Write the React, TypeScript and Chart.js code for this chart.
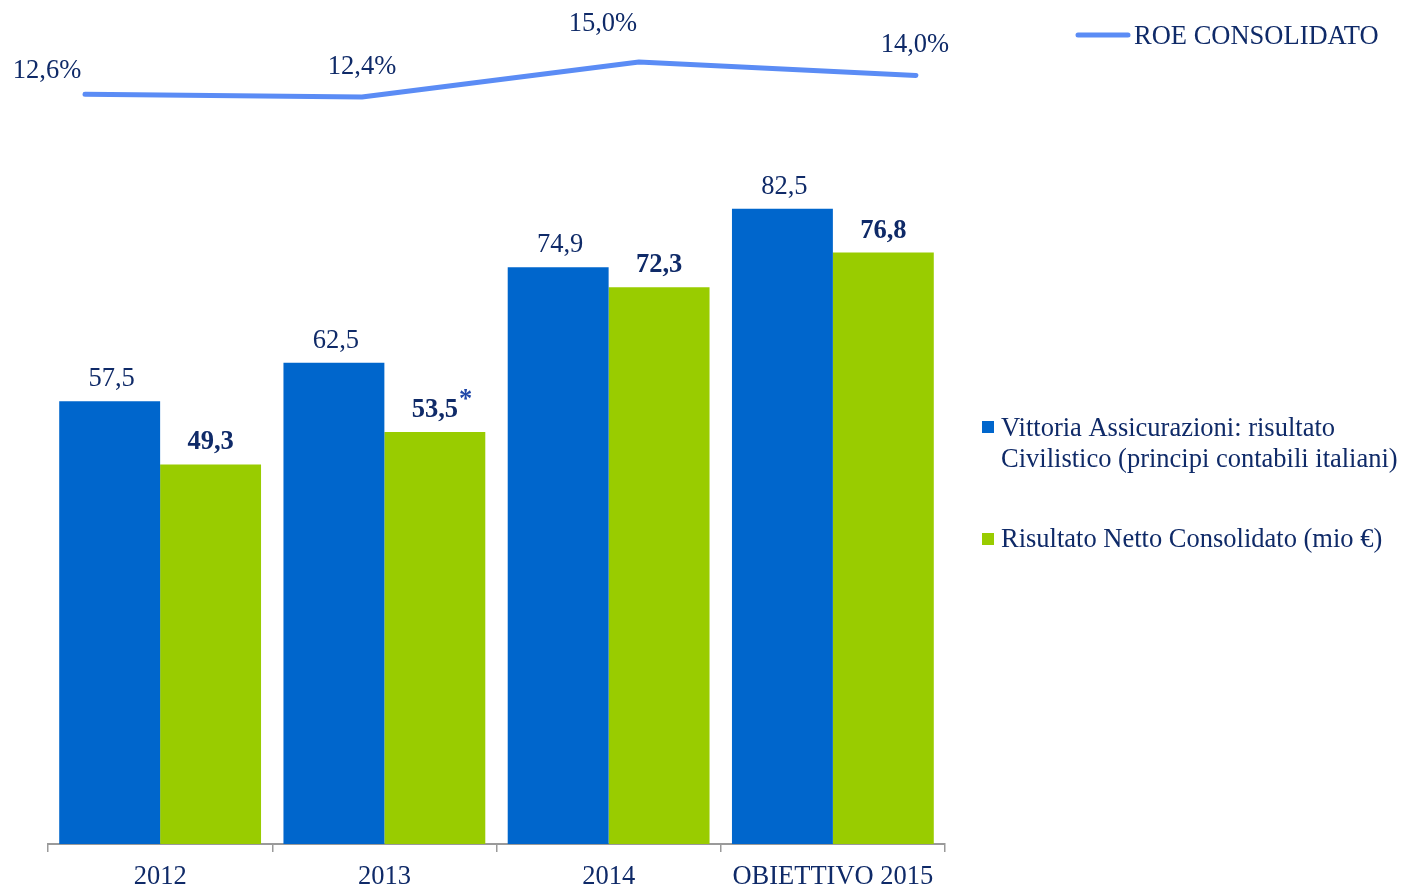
import React, { useEffect, useRef } from "react";
import { Chart, registerables } from "chart.js";

Chart.register(...registerables);

const categories = ["2012", "2013", "2014", "OBIETTIVO 2015"];
const civilisticoValues = [57.5, 62.5, 74.9, 82.5];
const consolidatoValues = [49.3, 53.5, 72.3, 76.8];
const consolidatoNotes = ["", "*", "", ""];
const roeValues = [12.6, 12.4, 15.0, 14.0];
const roePositions = [0, 1, 2, 3];

const seriesNames = [
  ["Vittoria Assicurazioni: risultato", "Civilistico (principi contabili italiani)"],
  ["Risultato Netto Consolidato (mio €)"],
];
const roeName = "ROE CONSOLIDATO";

// label offsets (px) for ROE labels relative to their points
const roeLabelOffsets = [
  [-38, -23],
  [0, -30],
  [-36, -38],
  [-1, -30],
];

const BLUE = "#0066CC";
const GREEN = "#99CC00";
const LINE = "#5B8CF5";
const NAVY = "#0F2A68";
const FONT = "'Liberation Serif', 'Times New Roman', serif";
const FS = 26.5;

const W = 1404;
const H = 887;
const BAR_H = 902;
const PAD = { left: 48, right: 459, top: 0, bottom: 43 };

const fmt = (v: number, d = 1) => v.toFixed(d).replace(".", ",");

const barLabelPlugin = {
  id: "barLabels",
  afterDraw(chart: any) {
    const ctx = chart.ctx;
    ctx.save();
    const m0 = chart.getDatasetMeta(0);
    const m1 = chart.getDatasetMeta(1);
    ctx.textAlign = "center";
    ctx.textBaseline = "alphabetic";
    m0.data.forEach((el: any, i: number) => {
      ctx.font = `${FS}px ${FONT}`;
      ctx.fillStyle = NAVY;
      ctx.fillText(fmt(civilisticoValues[i]), el.x + 2, el.y - 15);
    });
    m1.data.forEach((el: any, i: number) => {
      ctx.font = `bold ${FS}px ${FONT}`;
      ctx.fillStyle = NAVY;
      const txt = fmt(consolidatoValues[i]);
      ctx.fillText(txt, el.x, el.y - 15);
      if (consolidatoNotes[i]) {
        const w = ctx.measureText(txt).width;
        ctx.textAlign = "left";
        ctx.fillStyle = "#1F47A8";
        ctx.font = `bold ${FS}px ${FONT}`;
        ctx.fillText(consolidatoNotes[i], el.x + w / 2 + 1, el.y - 25);
        ctx.textAlign = "center";
      }
    });
    // legends
    ctx.textAlign = "left";
    ctx.textBaseline = "middle";
    ctx.strokeStyle = LINE;
    ctx.lineWidth = 5;
    ctx.lineCap = "round";
    ctx.beginPath();
    ctx.moveTo(1078, 35);
    ctx.lineTo(1128, 35);
    ctx.stroke();
    ctx.fillStyle = NAVY;
    ctx.font = `${FS}px ${FONT}`;
    ctx.fillText(roeName, 1134, 37);

    ctx.fillStyle = BLUE;
    ctx.fillRect(982, 421, 12, 12);
    ctx.fillStyle = NAVY;
    ctx.fillText(seriesNames[0][0], 1001, 429);
    ctx.fillText(seriesNames[0][1], 1001, 460);
    ctx.fillStyle = GREEN;
    ctx.fillRect(982, 533, 12, 12);
    ctx.fillStyle = NAVY;
    ctx.fillText(seriesNames[1][0], 1001, 540);
    ctx.restore();
  },
};

const lineLabelPlugin = {
  id: "lineLabels",
  afterDraw(chart: any) {
    const ctx = chart.ctx;
    ctx.save();
    const m = chart.getDatasetMeta(0);
    ctx.font = `${FS}px ${FONT}`;
    ctx.fillStyle = NAVY;
    ctx.textAlign = "center";
    ctx.textBaseline = "middle";
    m.data.forEach((el: any, i: number) => {
      const [dx, dy] = roeLabelOffsets[i];
      ctx.fillText(fmt(roeValues[i]) + "%", el.x + dx, el.y + dy);
    });
    ctx.restore();
  },
};

export default function App() {
  const barRef = useRef<HTMLCanvasElement | null>(null);
  const lineRef = useRef<HTMLCanvasElement | null>(null);
  useEffect(() => {
    if (!barRef.current || !lineRef.current) return;
    const barChart = new Chart(barRef.current, {
      type: "bar",
      data: {
        labels: categories,
        datasets: [
          {
            label: seriesNames[0].join(" "),
            data: civilisticoValues,
            backgroundColor: BLUE,
            barPercentage: 1.0,
            categoryPercentage: 0.9,
          },
          {
            label: seriesNames[1][0],
            data: consolidatoValues,
            backgroundColor: GREEN,
            barPercentage: 1.0,
            categoryPercentage: 0.9,
          },
        ],
      },
      options: {
        responsive: false,
        animation: false,
        layout: { padding: { left: 48, right: 459, top: 0, bottom: 0 } },
        plugins: { legend: { display: false }, tooltip: { enabled: false } },
        scales: {
          x: {
            type: "category",
            offset: true,
            grid: {
              display: true,
              drawOnChartArea: false,
              tickLength: 8,
              color: "#9A9A9A",
              offset: true,
              lineWidth: 1.5,
            },
            border: { display: true, color: "#9A9A9A", width: 2 },
            ticks: {
              color: NAVY,
              font: { family: FONT, size: FS, lineHeight: 0.6 },
              padding: 17,
            },
          },
          y: { display: false, min: 0, max: 109.6 },
        },
      },
      plugins: [barLabelPlugin],
    });
    const lineChart = new Chart(lineRef.current, {
      type: "line",
      data: {
        datasets: [
          {
            label: roeName,
            data: roeValues.map((v, i) => ({ x: roePositions[i], y: v })),
            borderColor: LINE,
            borderWidth: 5,
            pointRadius: 0,
            borderCapStyle: "round",
            borderJoinStyle: "round",
            tension: 0,
            clip: false as any,
          },
        ],
      },
      options: {
        responsive: false,
        animation: false,
        layout: { padding: PAD },
        plugins: { legend: { display: false }, tooltip: { enabled: false } },
        scales: {
          x: { type: "linear", display: false, min: -0.1336, max: 3.105 },
          y: { type: "linear", display: false, min: -43.1, max: 19.6 },
        },
      },
      plugins: [lineLabelPlugin],
    });
    return () => {
      barChart.destroy();
      lineChart.destroy();
    };
  }, []);
  return (
    <div style={{ position: "absolute", left: 0, top: 0, width: W, height: H, background: "#fff", overflow: "hidden" }}>
      <canvas ref={barRef} width={W} height={BAR_H} style={{ position: "absolute", left: 0, top: 0 }} />
      <canvas ref={lineRef} width={W} height={H} style={{ position: "absolute", left: 0, top: 0 }} />
    </div>
  );
}
